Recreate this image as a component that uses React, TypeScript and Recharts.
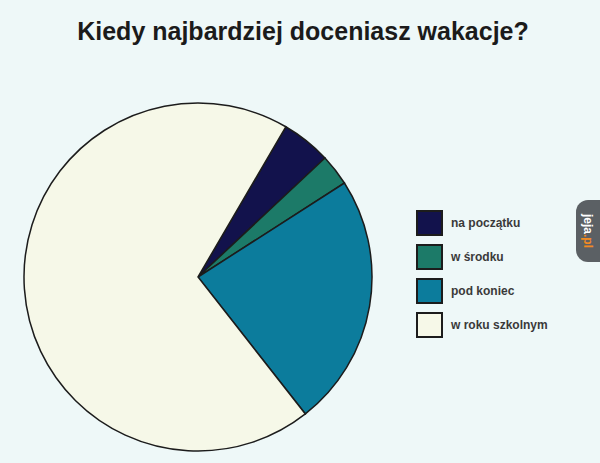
import { Legend, Pie, PieChart, Cell } from 'recharts';

const CATEGORIES = ['na początku', 'w środku', 'pod koniec', 'w roku szkolnym'];
const SHARES = [4.6, 2.9, 23.5, 69.0];
const COLORS = ['#12124c', '#1c7a68', '#0c7c9c', '#f6f8e8'];

const TITLE = 'Kiedy najbardziej doceniasz wakacje?';

const BG = '#eef8f8';
const OUTLINE = '#1c1c1c';

const data = CATEGORIES.map((name, i) => ({ name, value: SHARES[i] }));

function LegendBox() {
  return (
    <div style={{ display: 'flex', flexDirection: 'column', gap: 9 }}>
      {data.map((d, i) => (
        <div key={d.name} style={{ display: 'flex', alignItems: 'center', height: 25 }}>
          <span
            style={{
              display: 'inline-block',
              width: 23,
              height: 22,
              background: COLORS[i],
              border: `2px solid ${OUTLINE}`,
              marginRight: 8,
            }}
          />
          <span
            style={{
              fontFamily: '"Liberation Sans Narrow", "Liberation Sans", Arial, sans-serif',
              fontWeight: 'bold',
              fontSize: 12,
              color: '#3a3a3a',
            }}
          >
            {d.name}
          </span>
        </div>
      ))}
    </div>
  );
}

export default function App() {
  return (
    <div style={{ position: 'absolute', left: 0, top: 0, width: 600, height: 463, background: BG, overflow: 'hidden' }}>
      <div
        style={{
          position: 'absolute',
          top: 17,
          left: 0,
          width: 606,
          textAlign: 'center',
          fontFamily: '"Liberation Sans", Arial, sans-serif',
          fontWeight: 'bold',
          fontSize: 25,
          color: '#1b1b1b',
        }}
      >
        {TITLE}
      </div>
      <PieChart
        width={600}
        height={463}
        margin={{ top: 0, right: 0, bottom: 0, left: 0 }}
        style={{ position: 'absolute', left: 0, top: 0 }}
      >
        <Pie
          data={data}
          dataKey="value"
          nameKey="name"
          cx={198}
          cy={277}
          outerRadius={174}
          startAngle={59.7}
          endAngle={-300.3}
          stroke={OUTLINE}
          strokeWidth={1.5}
          isAnimationActive={false}
        >
          {data.map((d, i) => (
            <Cell key={d.name} fill={COLORS[i]} />
          ))}
        </Pie>
        <Legend
          layout="vertical"
          content={() => <LegendBox />}
          wrapperStyle={{ position: 'absolute', left: 416, top: 210, width: 170 }}
        />
      </PieChart>
      <div
        style={{
          position: 'absolute',
          right: 0,
          top: 200,
          width: 24,
          height: 62,
          background: '#5b6064',
          borderRadius: '12px 0 0 12px',
          display: 'flex',
          alignItems: 'center',
          justifyContent: 'center',
          writingMode: 'vertical-rl',
          fontFamily: '"Liberation Sans", Arial, sans-serif',
          fontWeight: 'bold',
          fontSize: 12,
          color: '#ffffff',
        }}
      >
        jeja<span style={{ color: '#f08a24' }}>.pl</span>
      </div>
    </div>
  );
}
